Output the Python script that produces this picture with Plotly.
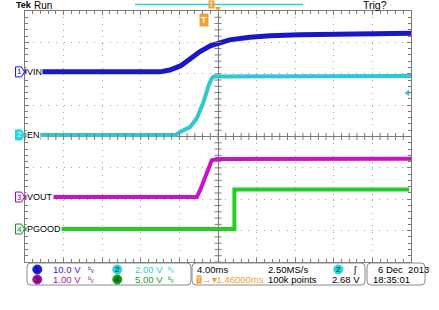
import numpy as np
import plotly.graph_objects as go

# ---------------- data (time in ms relative to screen centre, volts) -------------
t_vin = [-20, -6.0, -5.0, -3.9, -2.9, -1.9, -0.8, 0.0, 1.2, 3.3, 5.4, 8.5, 13.7, 20]
v_vin = [0, 0, 0.6, 1.9, 4.1, 6.4, 8.3, 9.2, 10.2, 11.0, 11.5, 11.8, 12.1, 12.3]

t_en = [-20, -4.4, -3.9, -2.9, -2.2, -1.5, -1.0, -0.65, -0.45, 20]
v_en = [0, 0, 0.2, 0.5, 1.05, 2.1, 3.1, 3.6, 3.72, 3.76]

t_vout = [-20, -2.2, -1.85, -1.35, -0.9, -0.65, -0.15, 20]
v_vout = [0, 0, 0.22, 0.65, 1.0, 1.17, 1.21, 1.22]

t_pgood = [-20, 1.7, 1.7, 19.8]
v_pgood = [0, 0, 6.3, 6.3]

ch_names = ["VIN", "EN", "VOUT", "PGOOD"]
ch_scale = [10.0, 2.0, 1.0, 5.0]          # V/div
ch_pos = [2.06, 0.05, -1.93, -2.95]       # ground position, divisions
ch_scale_txt = ["10.0 V", "2.00 V", "1.00 V", "5.00 V"]
ch_color = ["#1818c8", "#30c8d0", "#cc10cc", "#20d020"]
ch_text_color = ["#2a2ae0", "#30ccd4", "#a020a0", "#20a020"]
ch_badge = ["#1a1ae6", "#22d8dc", "#a010a0", "#119a11"]
ch_width = [5, 4, 4, 4]

time_div = 4.0          # ms/div
trig_pos = -1.46        # ms
trig_level = 2.68       # V on ch2
trig_src = 1            # index of channel 2

# ---------------- geometry helpers (pixels of the 439x310 page) -------------------
W, H = 439, 310
GX0, GX1, GY0, GY1 = 25, 411, 11, 262
FONT = "Liberation Sans, Arial, sans-serif"
FS = 9.5


def xp(px):
    return px / W


def yp(py):
    return 1 - py / H


def div_py(d):
    return (GY0 + GY1) / 2 - d * (GY1 - GY0) / 8


fig = go.Figure()

series = [(t_vin, v_vin), (t_en, v_en), (t_vout, v_vout), (t_pgood, v_pgood)]
for i in [3, 2, 1, 0]:
    t, v = series[i]
    y = [vv / ch_scale[i] + ch_pos[i] for vv in v]
    fig.add_trace(go.Scatter(x=t, y=y, mode="lines",
                             line=dict(color=ch_color[i], width=ch_width[i]),
                             hoverinfo="skip", showlegend=False))

# centre-line tick marks
xt = np.arange(-20, 20.01, time_div / 5)
yt = np.arange(-4, 4.01, 0.2)
fig.add_trace(go.Scatter(x=xt, y=[0] * len(xt), mode="markers",
                         marker=dict(symbol="line-ns", size=5,
                                     line=dict(color="#7a7a7a", width=1)),
                         hoverinfo="skip", showlegend=False))
fig.add_trace(go.Scatter(x=[0] * len(yt), y=yt, mode="markers",
                         marker=dict(symbol="line-ew", size=5,
                                     line=dict(color="#7a7a7a", width=1)),
                         hoverinfo="skip", showlegend=False))

# trigger level marker (right edge)
fig.add_trace(go.Scatter(x=[19.65], y=[trig_level / ch_scale[trig_src] + ch_pos[trig_src]],
                         mode="markers",
                         marker=dict(symbol="triangle-left", size=6,
                                     color=ch_color[trig_src]),
                         hoverinfo="skip", showlegend=False, cliponaxis=False))

fig.update_xaxes(range=[-20, 20], domain=[xp(GX0), xp(GX1)],
                 showticklabels=False, dtick=time_div, showgrid=True,
                 gridcolor="#a8a8a8", griddash="1px,5.3px", gridwidth=1,
                 zeroline=True, zerolinecolor="#7a7a7a", zerolinewidth=1,
                 showline=True, linecolor="#7a7a7a", linewidth=1, mirror="ticks",
                 ticks="inside", ticklen=4, tickcolor="#7a7a7a",
                 minor=dict(dtick=time_div / 5, ticks="inside", ticklen=3,
                            tickcolor="#7a7a7a", showgrid=False),
                 fixedrange=True)
fig.update_yaxes(range=[-4, 4], domain=[yp(GY1), yp(GY0)],
                 showticklabels=False, dtick=1, showgrid=True,
                 gridcolor="#a8a8a8", griddash="1px,6.7px", gridwidth=1,
                 zeroline=True, zerolinecolor="#7a7a7a", zerolinewidth=1,
                 showline=True, linecolor="#7a7a7a", linewidth=1, mirror="ticks",
                 ticks="inside", ticklen=4, tickcolor="#7a7a7a",
                 minor=dict(dtick=0.2, ticks="inside", ticklen=3,
                            tickcolor="#7a7a7a", showgrid=False),
                 fixedrange=True)

shapes = []
ann = []


def text(x, y, s, color="black", size=FS, anchor="left", bold=False, **kw):
    if bold:
        s = "<b>" + s + "</b>"
    d = dict(x=xp(x), y=yp(y), xref="paper", yref="paper", text=s,
             showarrow=False, xanchor=anchor, yanchor="middle",
             font=dict(family=FONT, size=size, color=color))
    d.update(kw)
    ann.append(d)


def rrect(x0, y0, x1, y1, r, color="#8a8a8a", fill=None):
    p = (f"M{xp(x0 + r)},{yp(y0)} L{xp(x1 - r)},{yp(y0)} "
         f"Q{xp(x1)},{yp(y0)} {xp(x1)},{yp(y0 + r)} L{xp(x1)},{yp(y1 - r)} "
         f"Q{xp(x1)},{yp(y1)} {xp(x1 - r)},{yp(y1)} L{xp(x0 + r)},{yp(y1)} "
         f"Q{xp(x0)},{yp(y1)} {xp(x0)},{yp(y1 - r)} L{xp(x0)},{yp(y0 + r)} "
         f"Q{xp(x0)},{yp(y0)} {xp(x0 + r)},{yp(y0)} Z")
    shapes.append(dict(type="path", path=p, xref="paper", yref="paper",
                       line=dict(color=color, width=1),
                       fillcolor=fill if fill else "rgba(0,0,0,0)"))


def circle(cx, cy, r, color):
    shapes.append(dict(type="circle", xref="paper", yref="paper",
                       x0=xp(cx - r), x1=xp(cx + r), y0=yp(cy + r), y1=yp(cy - r),
                       fillcolor=color, line=dict(color=color, width=1)))


# channel ground markers and labels
for i in range(4):
    cy = div_py(ch_pos[i])
    filled = (i == trig_src)
    p = (f"M{xp(15.5)},{yp(cy - 5)} L{xp(21.5)},{yp(cy - 5)} L{xp(24.5)},{yp(cy)} "
         f"L{xp(21.5)},{yp(cy + 5)} L{xp(15.5)},{yp(cy + 5)} Z")
    shapes.append(dict(type="path", path=p, xref="paper", yref="paper",
                       line=dict(color=ch_badge[i], width=1),
                       fillcolor=ch_badge[i] if filled else "#f4f4ff"))
    text(19, cy, str(i + 1), color="white" if filled else ch_badge[i], size=8,
         anchor="center")
    text(26, cy, ch_names[i], color="black", size=9, bgcolor="white", borderpad=0)

# top bar
text(13.5, 5.5, "Tek", size=9, bold=True)
text(32, 5.5, "Run", size=10)
text(361, 5.5, "Trig?", size=10.5)
shapes.append(dict(type="line", xref="paper", yref="paper", x0=xp(135), x1=xp(303),
                   y0=yp(4.5), y1=yp(4.5), line=dict(color="#30d0d8", width=1.5)))
text(211.5, 5, "T", color="white", size=7, anchor="center", bgcolor="#f0a030",
     borderpad=0)
shapes.append(dict(type="path", xref="paper", yref="paper",
                   path=f"M{xp(215)},{yp(7)} L{xp(221)},{yp(7)} L{xp(218)},{yp(11.5)} Z",
                   fillcolor="#f0a030", line=dict(color="#f0a030", width=0)))
# trigger position marker
ann.append(dict(x=trig_pos, y=yp(20), xref="x", yref="paper", text="<b>T</b>",
                showarrow=False, xanchor="center", yanchor="middle",
                font=dict(family=FONT, size=9, color="white"),
                bgcolor="#f0a030", borderpad=1))

# bottom info panel
rrect(27, 263, 191, 285, 4)
rrect(192, 263, 365, 285, 4)
rrect(367, 263, 425, 285, 4)
R1, R2 = 269.5, 279.5
cols = [(37.3, R1), (117.3, R1), (37.3, R2), (117.3, R2)]
for k, i in enumerate([0, 1, 2, 3]):
    cx, cy = cols[k]
    circle(cx, cy, 4.5, ch_badge[i])
    text(cx, cy, str(i + 1), color="#101030", size=8, anchor="center")
    tx = 50.5 if cx < 100 else 132.5
    text(tx, cy, ch_scale_txt[i], color=ch_text_color[i], size=FS)
    text(cx + 54, cy, "ᵇᵥ", color=ch_text_color[i], size=8, anchor="center")

text(194.5, R1, "4.00ms", size=FS)
text(195.5, R2, "T", color="white", size=6.5, bgcolor="#f0a030", borderpad=0)
text(200, R2, "→▾1.46000ms", color="#f0a030", size=FS)
text(265.5, R1, "2.50MS/s", size=FS)
text(266, R2, "100k points", size=FS)
circle(338.3, R1, 4.5, ch_badge[trig_src])
text(338.3, R1, "2", color="#101030", size=8, anchor="center")
text(355, R1, "ʃ", size=FS, anchor="center")
text(362, R2, "2.68 V", size=FS, anchor="right")
text(376, R1, "6 Dec  2013", size=FS)
text(371, R2, "18:35:01", size=FS)

fig.update_layout(width=W, height=H, margin=dict(l=0, r=0, t=0, b=0),
                  paper_bgcolor="white", plot_bgcolor="white",
                  shapes=shapes, annotations=ann, showlegend=False)

fig.write_html("out.html")
